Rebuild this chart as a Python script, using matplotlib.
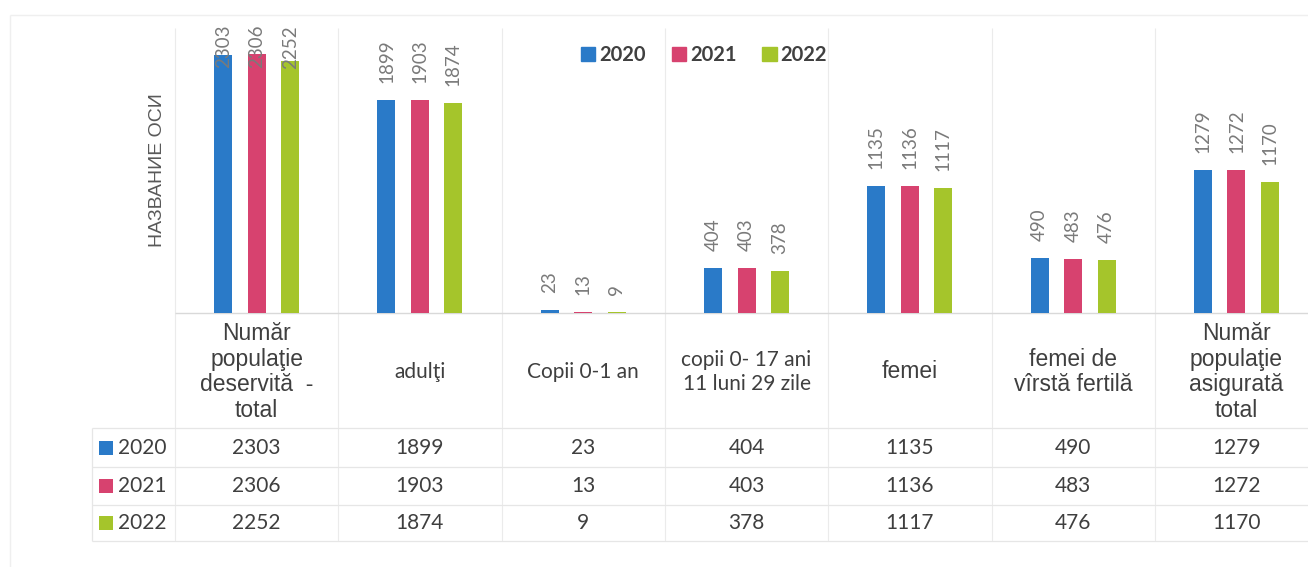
import matplotlib
matplotlib.use("Agg")
import matplotlib.pyplot as plt
import matplotlib.transforms as mtransforms
from matplotlib.patches import Patch, Rectangle

categories = ["Număr\npopulaţie\ndeservită  -\ntotal", "adulţi", "Copii 0-1 an",
              "copii 0- 17 ani\n11 luni 29 zile", "femei", "femei de\nvîrstă fertilă",
              "Număr\npopulaţie\nasigurată\ntotal"]
arial_like = [True, False, False, False, True, True, True]
years = ["2020", "2021", "2022"]
v2020 = [2303, 1899, 23, 404, 1135, 490, 1279]
v2021 = [2306, 1903, 13, 403, 1136, 483, 1272]
v2022 = [2252, 1874, 9, 378, 1117, 476, 1170]
series = [v2020, v2021, v2022]
colors = ["#2A7AC8", "#D7426F", "#A5C52B"]

CAL = ["Lato", "DejaVu Sans"]
ARI = ["Liberation Sans", "DejaVu Sans"]

# layout in pixels
W, H = 1308, 567
x0 = 175.0
cw = 163.3
base = 313
top = 26
row_lines = [428, 467, 505, 541]

fig = plt.figure(figsize=(W / 100, H / 100), dpi=100)

# overlay for grid + table (x in category units, y in pixels from top)
tab = fig.add_axes([0, 0, 1, 1], zorder=0)
tab.set_xlim(-x0 / cw, (W - x0) / cw)
tab.set_ylim(H, 0)
tab.axis('off')

ax = fig.add_axes([x0 / W, (H - base) / H, 7 * cw / W, (base - top) / H], zorder=1)
ax.set_xlim(0, 7)
ax.set_ylim(0, 2560)
ax.axis('off')
ax.patch.set_alpha(0)

# outer chart border
tab.hlines(15, -165 / cw, 8, color='#EFEFEF', lw=1)
tab.vlines(-165 / cw, 15, H, color='#EFEFEF', lw=1)

# grid / table lines
tab.vlines(range(8), 28, row_lines[-1], color='#EBEBEB', lw=0.8)
tab.hlines(base, 0, 8, color='#D9D9D9', lw=1)
left_tab = -(x0 - 92) / cw
tab.hlines(row_lines, left_tab, 8, color='#E6E6E6', lw=0.9)
tab.vlines(left_tab, row_lines[0], row_lines[-1], color='#E6E6E6', lw=0.9)

# bars
offs = [-0.205, 0.0, 0.205]
for j, vals in enumerate(series):
    xs = [i + 0.5 + offs[j] for i in range(len(categories))]
    ax.bar(xs, vals, width=0.11, color=colors[j], linewidth=0)

# data labels
labels = []
for j, vals in enumerate(series):
    for i, v in enumerate(vals):
        t = ax.text(i + 0.5 + offs[j], v, str(v), rotation=90, ha='center', va='bottom',
                    fontsize=13.5, color='#7A7A7A', family=CAL,
                    transform=mtransforms.offset_copy(ax.transData, fig=fig, y=17, units='dots'))
        labels.append(t)

# header row
for i, c in enumerate(categories):
    if arial_like[i]:
        tab.text(i + 0.5, 372, c, ha='center', va='center', fontsize=16.5, family=ARI,
                 color='#3F3F3F', linespacing=1.16)
    else:
        tab.text(i + 0.5, 372, c, ha='center', va='center', fontsize=15, family=CAL,
                 color='#3F3F3F', linespacing=1.3)

# table rows
for j, vals in enumerate(series):
    yc = (row_lines[j] + row_lines[j + 1]) / 2
    tab.add_patch(Rectangle(((99 - x0) / cw, yc - 7), 14 / cw, 14, color=colors[j], lw=0))
    tab.text((118 - x0) / cw, yc, years[j], ha='left', va='center', fontsize=15,
             family=CAL, color='#3F3F3F')
    for i, v in enumerate(vals):
        tab.text(i + 0.5, yc, str(v), ha='center', va='center', fontsize=15,
                 family=CAL, color='#3F3F3F')

# axis title
fig.text(158 / W, 1 - 170 / H, "НАЗВАНИЕ ОСИ", rotation=90, ha='center', va='center',
         fontsize=14, family=ARI, color='#595959')

# legend
handles = [Patch(color=colors[j], label=years[j]) for j in range(3)]
fig.legend(handles=handles, loc='center', bbox_to_anchor=(704 / W, 1 - 55 / H), ncol=3,
           frameon=False, handlelength=0.7, handleheight=0.7, handletextpad=0.2,
           columnspacing=1.3, prop={'family': CAL, 'weight': 'bold', 'size': 14.5},
           labelcolor='#404040')

# keep labels inside the plot area (like Excel does)
fig.canvas.draw()
r = fig.canvas.get_renderer()
lim = H - 25
for t in labels:
    bb = t.get_window_extent(r)
    if bb.y1 > lim:
        t.set_transform(mtransforms.offset_copy(ax.transData, fig=fig, y=17 - (bb.y1 - lim),
                                                units='dots'))

fig.savefig("out.png", dpi=100)
